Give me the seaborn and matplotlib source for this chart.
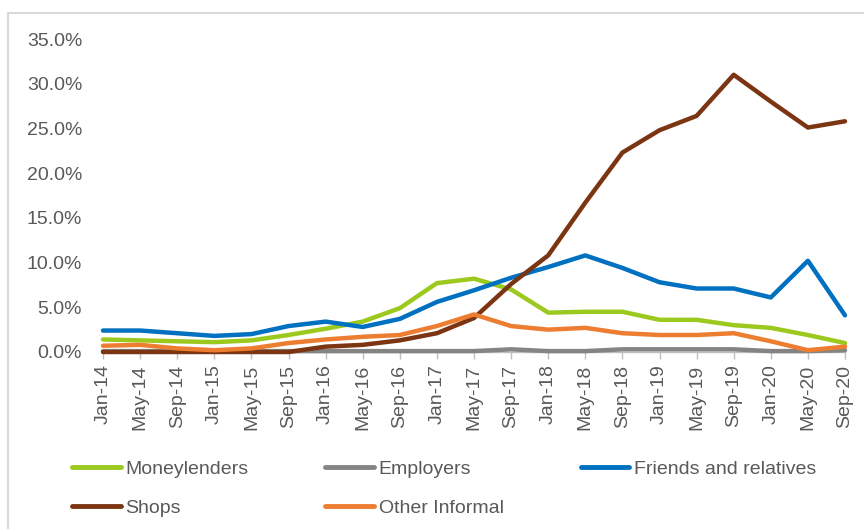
import matplotlib
matplotlib.use("Agg")
import matplotlib.pyplot as plt
from matplotlib.lines import Line2D
from matplotlib.ticker import FuncFormatter
import seaborn as sns
import pandas as pd

periods = ["Jan-14", "May-14", "Sep-14", "Jan-15", "May-15", "Sep-15", "Jan-16",
           "May-16", "Sep-16", "Jan-17", "May-17", "Sep-17", "Jan-18", "May-18",
           "Sep-18", "Jan-19", "May-19", "Sep-19", "Jan-20", "May-20", "Sep-20"]

moneylenders = [1.4, 1.3, 1.2, 1.1, 1.3, 1.9, 2.6, 3.4, 4.9, 7.7, 8.2, 7.0,
                4.4, 4.5, 4.5, 3.6, 3.6, 3.0, 2.7, 1.9, 1.0]
employers = [0.1, 0.1, 0.1, 0.1, 0.1, 0.1, 0.1, 0.1, 0.1, 0.1, 0.1, 0.3,
             0.1, 0.1, 0.3, 0.3, 0.3, 0.3, 0.1, 0.1, 0.2]
friends_relatives = [2.4, 2.4, 2.1, 1.8, 2.0, 2.9, 3.4, 2.8, 3.7, 5.6, 6.9, 8.3,
                     9.5, 10.8, 9.4, 7.8, 7.1, 7.1, 6.1, 10.2, 4.1]
shops = [0.0, 0.0, 0.0, 0.0, 0.0, 0.0, 0.6, 0.8, 1.3, 2.1, 3.8, 7.6,
         10.8, 16.7, 22.3, 24.8, 26.4, 31.0, 28.0, 25.1, 25.8]
other_informal = [0.7, 0.8, 0.4, 0.2, 0.4, 1.0, 1.4, 1.7, 1.9, 2.9, 4.2, 2.9,
                  2.5, 2.7, 2.1, 1.9, 1.9, 2.1, 1.2, 0.2, 0.6]

series_names = ["Moneylenders", "Employers", "Friends and relatives", "Shops", "Other Informal"]
series_values = [moneylenders, employers, friends_relatives, shops, other_informal]
colors = {"Moneylenders": "#9BC91E", "Employers": "#848484",
          "Friends and relatives": "#0070C0", "Shops": "#7B3512",
          "Other Informal": "#ED7D31"}

df = pd.concat(
    [pd.DataFrame({"idx": range(len(periods)), "period": periods, "value": vals, "series": name})
     for name, vals in zip(series_names, series_values)],
    ignore_index=True,
)

sns.set_theme(style="white")
plt.rcParams["font.family"] = ["Liberation Sans", "DejaVu Sans"]
text_color = "#595959"
W, H = 864, 529
fig = plt.figure(figsize=(W / 100, H / 100), dpi=100)
ax = fig.add_axes([103 / W, 1 - 352 / H, (845 - 103) / W, (352 - 39) / H])

sns.lineplot(data=df, x="idx", y="value", hue="series", hue_order=series_names,
             palette=colors, linewidth=3.2, ax=ax, legend=False, clip_on=False)
for ln in ax.lines:
    ln.set_solid_joinstyle("round")
    ln.set_solid_capstyle("round")

ax.set_xlim(0, len(periods) - 1)
ax.set_ylim(0, 35)
ax.set_yticks(range(0, 36, 5))
ax.yaxis.set_major_formatter(FuncFormatter(lambda v, p: f"{v:.1f}%"))
ax.set_xticks(range(len(periods)))
ax.set_xticklabels(periods, rotation=90)
ax.set_xlabel("")
ax.set_ylabel("")

for s in ["left", "right", "top"]:
    ax.spines[s].set_visible(False)
ax.spines["bottom"].set_color("#BFBFBF")
ax.spines["bottom"].set_linewidth(1)
ax.spines["bottom"].set_zorder(0.5)
ax.tick_params(axis="y", length=0, pad=15, labelsize=14, labelcolor=text_color)
ax.tick_params(axis="x", length=5, width=1, color="#BFBFBF", pad=4,
               labelsize=14, labelcolor=text_color, direction="out", bottom=True)
ax.grid(False)

handles = {name: Line2D([0], [0], color=colors[name], linewidth=3.5, solid_capstyle="round")
           for name in series_names}
order = ["Moneylenders", "Shops", "Employers", "Other Informal", "Friends and relatives"]
leg = fig.legend([handles[n] for n in order], order, ncol=3, frameon=False,
                 loc="upper left", bbox_to_anchor=(72 / W, 1 - 460 / H),
                 borderpad=0, borderaxespad=0, handlelength=2.5, handletextpad=0.25,
                 columnspacing=3.95, labelspacing=1.12, fontsize=14)
for t in leg.get_texts():
    t.set_color(text_color)

# chart area frame (left and top edges)
frame_color = "#D9D9D9"
fig.add_artist(Line2D([8 / W, 8 / W], [0, 1 - 13 / H], color=frame_color, linewidth=1.5,
                      transform=fig.transFigure))
fig.add_artist(Line2D([8 / W, 1], [1 - 13 / H, 1 - 13 / H], color=frame_color, linewidth=1.5,
                      transform=fig.transFigure))

fig.savefig("out.png", dpi=100)
